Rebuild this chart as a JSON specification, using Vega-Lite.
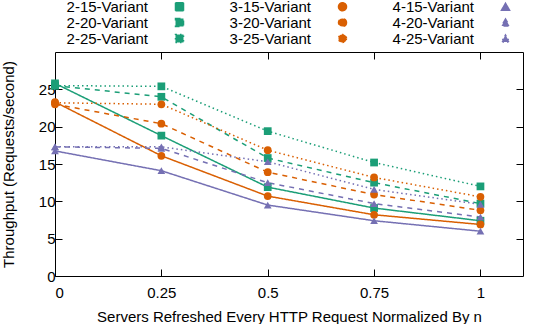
{
  "$schema": "https://vega.github.io/schema/vega-lite/v6.json",
  "width": 468,
  "height": 224,
  "autosize": {"type": "none"},
  "padding": {"left": 55, "top": 52, "right": 15, "bottom": 48},
  "config": {
    "font": "Liberation Sans",
    "view": {"stroke": "#000", "strokeWidth": 1},
    "axis": {"labelFont": "Liberation Sans", "titleFont": "Liberation Sans", "labelFontSize": 15, "titleFontSize": 15, "titleFontWeight": "normal", "labelColor": "#000", "titleColor": "#000", "tickColor": "#000", "grid": false, "domain": false}
  },
  "data": {"values": [
    {"x": 0, "y": 25.8, "series": "2-15-Variant"},
    {"x": 0.25, "y": 18.8, "series": "2-15-Variant"},
    {"x": 0.5, "y": 11.9, "series": "2-15-Variant"},
    {"x": 0.75, "y": 9.1, "series": "2-15-Variant"},
    {"x": 1, "y": 7.4, "series": "2-15-Variant"},
    {"x": 0, "y": 25.5, "series": "2-20-Variant"},
    {"x": 0.25, "y": 24.0, "series": "2-20-Variant"},
    {"x": 0.5, "y": 15.8, "series": "2-20-Variant"},
    {"x": 0.75, "y": 12.5, "series": "2-20-Variant"},
    {"x": 1, "y": 9.7, "series": "2-20-Variant"},
    {"x": 0, "y": 25.5, "series": "2-25-Variant"},
    {"x": 0.25, "y": 25.4, "series": "2-25-Variant"},
    {"x": 0.5, "y": 19.4, "series": "2-25-Variant"},
    {"x": 0.75, "y": 15.2, "series": "2-25-Variant"},
    {"x": 1, "y": 12.0, "series": "2-25-Variant"},
    {"x": 0, "y": 23.3, "series": "3-15-Variant"},
    {"x": 0.25, "y": 16.1, "series": "3-15-Variant"},
    {"x": 0.5, "y": 10.7, "series": "3-15-Variant"},
    {"x": 0.75, "y": 8.2, "series": "3-15-Variant"},
    {"x": 1, "y": 6.9, "series": "3-15-Variant"},
    {"x": 0, "y": 23.0, "series": "3-20-Variant"},
    {"x": 0.25, "y": 20.4, "series": "3-20-Variant"},
    {"x": 0.5, "y": 13.9, "series": "3-20-Variant"},
    {"x": 0.75, "y": 10.9, "series": "3-20-Variant"},
    {"x": 1, "y": 8.8, "series": "3-20-Variant"},
    {"x": 0, "y": 23.2, "series": "3-25-Variant"},
    {"x": 0.25, "y": 23.0, "series": "3-25-Variant"},
    {"x": 0.5, "y": 16.85, "series": "3-25-Variant"},
    {"x": 0.75, "y": 13.2, "series": "3-25-Variant"},
    {"x": 1, "y": 10.6, "series": "3-25-Variant"},
    {"x": 0, "y": 16.75, "series": "4-15-Variant"},
    {"x": 0.25, "y": 14.1, "series": "4-15-Variant"},
    {"x": 0.5, "y": 9.5, "series": "4-15-Variant"},
    {"x": 0.75, "y": 7.4, "series": "4-15-Variant"},
    {"x": 1, "y": 6.0, "series": "4-15-Variant"},
    {"x": 0, "y": 17.3, "series": "4-20-Variant"},
    {"x": 0.25, "y": 17.1, "series": "4-20-Variant"},
    {"x": 0.5, "y": 12.5, "series": "4-20-Variant"},
    {"x": 0.75, "y": 9.7, "series": "4-20-Variant"},
    {"x": 1, "y": 7.9, "series": "4-20-Variant"},
    {"x": 0, "y": 17.3, "series": "4-25-Variant"},
    {"x": 0.25, "y": 17.3, "series": "4-25-Variant"},
    {"x": 0.5, "y": 15.3, "series": "4-25-Variant"},
    {"x": 0.75, "y": 11.6, "series": "4-25-Variant"},
    {"x": 1, "y": 9.6, "series": "4-25-Variant"}
  ]},
  "layer": [
    {
      "mark": {"type": "line", "strokeWidth": 1.5},
      "encoding": {
        "x": {"field": "x", "type": "quantitative", "scale": {"domain": [0, 1.1], "nice": false, "zero": false},
              "axis": {"orient": "bottom", "values": [0, 0.25, 0.5, 0.75, 1], "format": ".2~f", "tickSize": -7, "labelPadding": 16, "title": "Servers Refreshed Every HTTP Request Normalized By n", "titlePadding": 9}},
        "y": {"field": "y", "type": "quantitative", "scale": {"domain": [0, 30], "nice": false},
              "axis": {"orient": "left", "values": [0, 5, 10, 15, 20, 25], "format": "d", "tickSize": -7, "labelPadding": 7, "title": "Throughput (Requests/second)", "titlePadding": 22}},
        "color": {"field": "series", "type": "nominal",
          "scale": {"domain": ["2-15-Variant","2-20-Variant","2-25-Variant","3-15-Variant","3-20-Variant","3-25-Variant","4-15-Variant","4-20-Variant","4-25-Variant"],
                    "range": ["#1b9e77","#1b9e77","#1b9e77","#d95f02","#d95f02","#d95f02","#7570b3","#7570b3","#7570b3"]},
          "legend": {
            "orient": "none", "legendX": 117, "legendY": -53, "title": null, "columns": 3,
            "columnPadding": 42, "rowPadding": -4, "padding": 0,
            "symbolSize": 64, "symbolStrokeWidth": 1.5, "labelOffset": -39, "labelAlign": "right",
            "labelFont": "Liberation Sans", "labelFontSize": 15, "labelColor": "#000", "labelLimit": 200
          }},
        "strokeDash": {"field": "series", "type": "nominal",
          "scale": {"domain": ["2-15-Variant","2-20-Variant","2-25-Variant","3-15-Variant","3-20-Variant","3-25-Variant","4-15-Variant","4-20-Variant","4-25-Variant"],
                    "range": [[1,0],[5,5],[1.5,3],[1,0],[5,5],[1.5,3],[1,0],[5,5],[1.5,3]]},
          "legend": null}
      }
    },
    {
      "mark": {"type": "point", "filled": true, "opacity": 1, "size": 60},
      "encoding": {
        "x": {"field": "x", "type": "quantitative", "axis": {"orient": "top", "values": [0.25, 0.5, 0.75, 1], "labels": false, "tickSize": -7, "title": null}},
        "y": {"field": "y", "type": "quantitative", "axis": {"orient": "right", "values": [5, 10, 15, 20, 25], "labels": false, "tickSize": -7, "title": null}},
        "color": {"field": "series", "type": "nominal"},
        "shape": {"field": "series", "type": "nominal",
          "scale": {"domain": ["2-15-Variant","2-20-Variant","2-25-Variant","3-15-Variant","3-20-Variant","3-25-Variant","4-15-Variant","4-20-Variant","4-25-Variant"],
                    "range": ["square","square","square","circle","circle","circle","triangle-up","triangle-up","triangle-up"]},
          "legend": null}
      }
    }
  ]
}
